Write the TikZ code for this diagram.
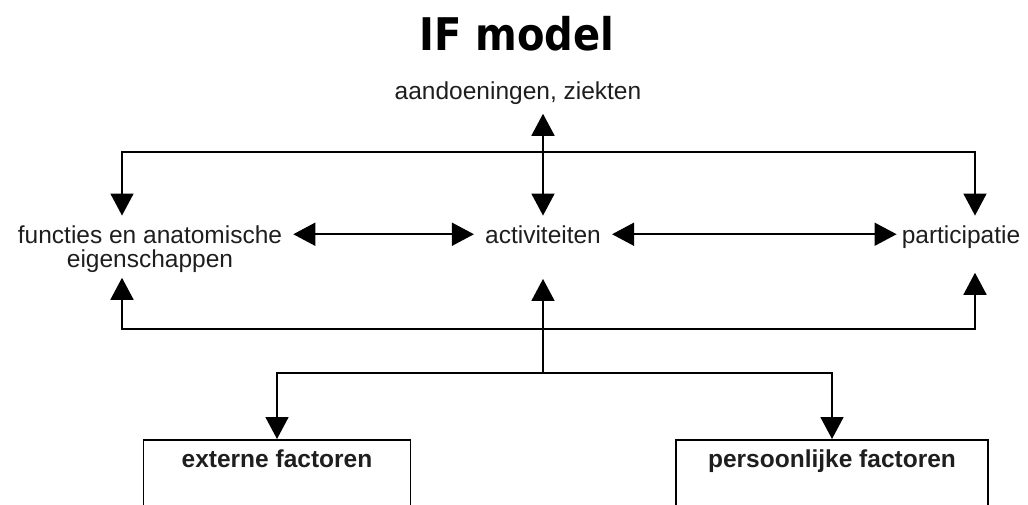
\documentclass[tikz,border=0pt]{standalone}
\usepackage{fontspec}
\setmainfont{Liberation Sans}
\newfontfamily\titlefont{DejaVu Sans}
\usepackage{tikz}
\usetikzlibrary{positioning,arrows.meta,calc}
\definecolor{inkgrey}{HTML}{1E1E1E}

\begin{document}
\begin{tikzpicture}[x=1pt, y=-1pt,
    lbl/.style={font=\fontsize{24.5}{24}\selectfont, text=inkgrey,
                inner xsep=11pt, inner ysep=9.5pt},
    factbox/.style={draw, line width=1.7pt, anchor=north, text=inkgrey,
                font=\fontsize{24.5}{24}\selectfont\bfseries,
                inner ysep=10pt, text depth=100pt},
    arr/.style={line width=1.7pt, -{Triangle[width=23pt,length=22pt]}},
    dbl/.style={line width=1.7pt,
                {Triangle[width=23pt,length=22pt]}-{Triangle[width=23pt,length=22pt]}},
]
\useasboundingbox (0,0) rectangle (1028,504);
\clip (0,0) rectangle (1028,504);

\node[anchor=base, font=\titlefont\fontsize{45}{45}\selectfont\bfseries]
    (title) at (517,50) {\scalebox{0.89}[1]{IF model}};

\node[lbl, anchor=base] (aand) at (518,99) {aandoeningen, ziekten};
\node[lbl, anchor=base] (act) at (543,243) {activiteiten};
\node[lbl, anchor=base, align=center] (func) at (150,267)
    {functies en anatomische\\eigenschappen};
\node[lbl, anchor=base, inner xsep=5pt] (part) at (961,243) {participatie};

\node[factbox, minimum width=267pt] (ext) at (277,439) {externe factoren};
\node[factbox, minimum width=312pt] (pers) at (832,439) {persoonlijke factoren};

% corners of the two bars and the fork
\coordinate (topbar) at (543,152);
\coordinate (botbar) at (543,329);
\coordinate (fork) at (543,373);
\coordinate (lcol) at (122,0);
\coordinate (rcol) at (975,0);

\draw[dbl] (aand.south -| act) -- (act);
\draw[dbl] (act.west -| func.east) -- (act.west);
\draw[dbl] (act.east) -- (act.east -| part.west);

\draw[arr] (topbar) -| (lcol |- func.north);
\draw[arr] (topbar) -| (rcol |- part.north);
\draw[arr, shorten >=-4pt] (botbar) -| (lcol |- func.south);
\draw[arr, shorten >=15pt] (botbar) -| (rcol |- part.south);
\draw[arr, shorten >=26pt] (fork) -- (fork |- act.south);

\draw[arr] (fork) -| (ext);
\draw[arr] (fork) -| (pers);
\end{tikzpicture}
\end{document}
